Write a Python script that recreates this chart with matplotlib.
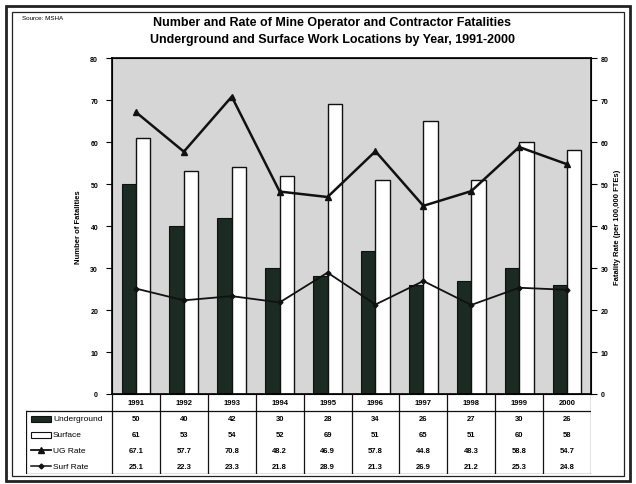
import matplotlib
matplotlib.use("Agg")
import matplotlib.pyplot as plt
from matplotlib.patches import Rectangle
import numpy as np

plt.rcParams['font.family'] = ['Liberation Sans', 'DejaVu Sans']

years = ['1991', '1992', '1993', '1994', '1995', '1996', '1997', '1998', '1999', '2000']
underground = [50, 40, 42, 30, 28, 34, 26, 27, 30, 26]
surface = [61, 53, 54, 52, 69, 51, 65, 51, 60, 58]
ug_rate = [67.1, 57.7, 70.8, 48.2, 46.9, 57.8, 44.8, 48.3, 58.8, 54.7]
surf_rate = [25.1, 22.3, 23.3, 21.8, 28.9, 21.3, 26.9, 21.2, 25.3, 24.8]
row_names = ['Underground', 'Surface', 'UG Rate', 'Surf Rate']

W, H = 636, 485
fig = plt.figure(figsize=(W / 100, H / 100), dpi=100)


def fx(px):
    return px / W


def fy(py):
    return 1 - py / H


# plot area in pixel coordinates
L, R, T, B = 112, 591, 59, 395
ax = fig.add_axes([fx(L), fy(B), fx(R - L), (B - T) / H])
ax.set_facecolor('#d6d6d6')
x = np.arange(len(years))
bw = 0.3
ax.bar(x - bw / 2, underground, bw, color='#1b2a22', edgecolor='#111111', linewidth=0.8, zorder=2)
ax.bar(x + bw / 2, surface, bw, color='white', edgecolor='#111111', linewidth=1.0, zorder=2)
ax.set_xlim(-0.5, len(years) - 0.5)
ax.set_ylim(0, 80)
ax.set_yticks(range(0, 81, 10))
ax.set_xticks([])
ax.tick_params(axis='y', labelsize=5, length=4, width=0.8, pad=6)
for lab in ax.get_yticklabels():
    lab.set_fontweight('bold')
ax.set_ylabel('Number of Fatalities', fontsize=5.5, fontweight='bold', labelpad=6)
for s in ax.spines.values():
    s.set_linewidth(1.2)

ax2 = ax.twinx()
ax2.plot(x, ug_rate, color='#111111', linewidth=1.8, marker='^', markersize=5, zorder=3)
ax2.plot(x, surf_rate, color='#111111', linewidth=1.3, marker='D', markersize=2.5, zorder=3)
ax2.set_ylim(0, 80)
ax2.set_yticks(range(0, 81, 10))
ax2.tick_params(axis='y', labelsize=5, length=4, width=0.8, pad=3)
for lab in ax2.get_yticklabels():
    lab.set_fontweight('bold')
ax2.set_ylabel('Fatality Rate (per 100,000 FTEs)', fontsize=5.5, fontweight='bold', labelpad=4)

# data table beneath the chart
TL, TB = 26, 475
HB = 412
colw = (R - L) / len(years)
tax = fig.add_axes([fx(TL), fy(TB), fx(R - TL), (TB - B) / H])
tax.set_xlim(-0.5 - (L - TL) / colw, len(years) - 0.5)
tax.set_ylim(TB, B)
tax.axis('off')
x0 = -0.5 - (L - TL) / colw
lw = 0.9
for i in range(len(years) + 1):
    tax.plot([i - 0.5, i - 0.5], [B, TB], color='#111111', lw=lw)
tax.plot([x0, len(years) - 0.5], [HB, HB], color='#111111', lw=lw)
tax.plot([x0, len(years) - 0.5], [TB, TB], color='#111111', lw=lw)
tax.plot([x0, x0], [HB, TB], color='#111111', lw=lw)
for i, yr in enumerate(years):
    tax.text(i, (B + HB) / 2, yr, ha='center', va='center', fontsize=5.5, fontweight='bold')
rows = [underground, surface, ug_rate, surf_rate]
rh = (TB - HB) / len(rows)
for r, vals in enumerate(rows):
    yc = HB + rh * (r + 0.5)
    for i, v in enumerate(vals):
        txt = f'{v:.1f}' if isinstance(v, float) else str(v)
        tax.text(i, yc, txt, ha='center', va='center', fontsize=5.5, fontweight='bold')
    tax.text(x0 + 27 / colw, yc, row_names[r], ha='left', va='center', fontsize=6)

# legend glyphs in the row-label cells
gx0, gx1 = x0 + 5 / colw, x0 + 25 / colw
for r in range(len(rows)):
    yc = HB + rh * (r + 0.5)
    if r == 0:
        tax.add_patch(Rectangle((gx0, yc - 3), gx1 - gx0, 6, facecolor='#1b2a22', edgecolor='#111111', lw=0.8))
    elif r == 1:
        tax.add_patch(Rectangle((gx0, yc - 3), gx1 - gx0, 6, facecolor='white', edgecolor='#111111', lw=0.8))
    elif r == 2:
        tax.plot([gx0, gx1], [yc, yc], color='#111111', lw=1.3)
        tax.plot([(gx0 + gx1) / 2], [yc], marker='^', color='#111111', markersize=4)
    else:
        tax.plot([gx0, gx1], [yc, yc], color='#111111', lw=1.1)
        tax.plot([(gx0 + gx1) / 2], [yc], marker='D', color='#111111', markersize=2.5)

# titles
fig.text(fx(332), fy(23), 'Number and Rate of Mine Operator and Contractor Fatalities',
         ha='center', va='center', fontsize=9, fontweight='bold')
fig.text(fx(332), fy(40), 'Underground and Surface Work Locations by Year, 1991-2000',
         ha='center', va='center', fontsize=9, fontweight='bold')
fig.text(fx(22), fy(19), 'Source: MSHA', ha='left', va='center', fontsize=4.5)

# double border around the whole figure
fig.add_artist(Rectangle((fx(6), fy(482)), fx(624), (482 - 7) / H, fill=False,
                         edgecolor='#222222', lw=2.0, transform=fig.transFigure))
fig.add_artist(Rectangle((fx(12), fy(477)), fx(612), (477 - 13) / H, fill=False,
                         edgecolor='#222222', lw=0.9, transform=fig.transFigure))

fig.savefig('out.png', dpi=100)
